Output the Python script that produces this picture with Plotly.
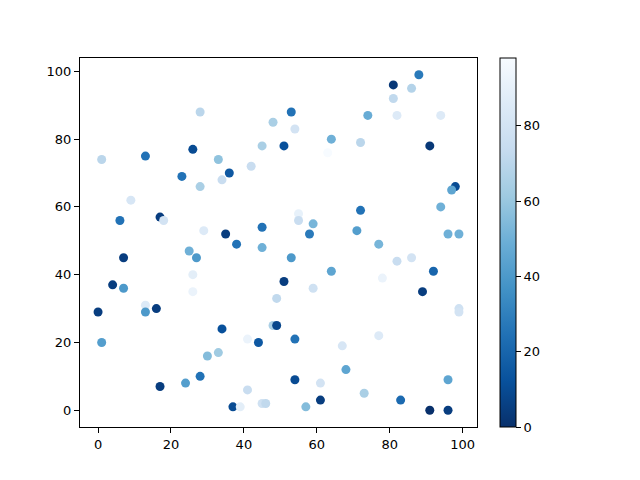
import plotly.graph_objects as go

# -----------------------------
# Data
# -----------------------------
x_vals = [28, 26, 1, 13, 33, 23, 28, 34, 9, 17,
          18, 6, 29, 53, 48, 54, 45, 51, 64, 63,
          42, 36, 55, 55, 59, 45, 35, 58, 38, 45,
          88, 81, 86, 81, 74, 82, 94, 72, 91, 98,
          97, 94, 72, 71, 96, 99, 77, 7, 25, 27,
          26, 26, 4, 7, 13, 13, 16, 0, 1, 33,
          30, 28, 24, 17, 53, 64, 51, 59, 49, 48,
          49, 34, 41, 44, 54, 67, 68, 54, 61, 41,
          61, 45, 46, 37, 39, 57, 82, 86, 92, 78,
          89, 99, 99, 77, 96, 73, 83, 91, 96]
y_vals = [88, 77, 74, 75, 74, 69, 66, 68, 62, 57,
          56, 56, 53, 88, 85, 83, 78, 78, 80, 76,
          72, 70, 58, 56, 55, 54, 52, 52, 49, 48,
          99, 96, 95, 92, 87, 87, 87, 79, 78, 66,
          65, 60, 59, 53, 52, 52, 49, 45, 47, 45,
          40, 35, 37, 36, 31, 29, 30, 29, 20, 17,
          16, 10, 8, 7, 45, 41, 38, 36, 33, 25,
          25, 24, 21, 20, 21, 19, 12, 9, 8, 6,
          3, 2, 2, 1, 1, 1, 44, 45, 41, 39,
          35, 30, 29, 22, 9, 5, 3, 0, 0]
c_vals = [70, 10, 70, 25, 58, 25, 65, 75, 82, 5,
          80, 25, 85, 25, 65, 80, 65, 12, 50, 98,
          75, 15, 90, 75, 52, 25, 5, 28, 25, 50,
          28, 3, 68, 72, 48, 85, 85, 70, 3, 10,
          45, 50, 25, 42, 50, 50, 52, 5, 50, 40,
          88, 92, 5, 40, 85, 40, 5, 5, 42, 62,
          55, 25, 42, 5, 40, 45, 5, 78, 72, 65,
          8, 12, 92, 15, 25, 82, 45, 10, 80, 75,
          5, 78, 72, 10, 88, 55, 75, 80, 20, 92,
          5, 78, 80, 85, 45, 65, 22, 0, 5]

tick_vals = [0, 20, 40, 60, 80, 100]
cbar_ticks = [0, 20, 40, 60, 80]

# matplotlib "Blues_r"
blues_r = [
    [0.000, "rgb(8,48,107)"],
    [0.125, "rgb(8,81,156)"],
    [0.250, "rgb(33,113,181)"],
    [0.375, "rgb(66,146,198)"],
    [0.500, "rgb(107,174,214)"],
    [0.625, "rgb(158,202,225)"],
    [0.750, "rgb(198,219,239)"],
    [0.875, "rgb(222,235,247)"],
    [1.000, "rgb(247,251,255)"],
]

fig = go.Figure()

fig.add_trace(go.Scatter(
    x=x_vals, y=y_vals, mode="markers",
    marker=dict(
        size=9, color=c_vals, colorscale=blues_r,
        cmin=min(c_vals), cmax=max(c_vals),
        line=dict(width=0),
        colorbar=dict(
            x=1.033, xanchor="left", y=0.5, yanchor="middle",
            len=1, lenmode="fraction", ypad=0,
            thickness=16, thicknessmode="pixels",
            outlinewidth=1, outlinecolor="black",
            tickvals=cbar_ticks, ticks="outside", ticklen=5,
            tickcolor="black", tickfont=dict(size=13, color="black"),
        ),
    ),
    showlegend=False,
))

axis_style = dict(
    showline=True, mirror=True, linecolor="black", linewidth=1,
    ticks="outside", ticklen=5, tickcolor="black",
    showgrid=False, zeroline=False,
    tickvals=tick_vals, tickfont=dict(size=13, color="black"),
)

# page body adds an 8px offset, so the margins are shifted to compensate
fig.update_layout(
    width=640, height=480,
    margin=dict(l=72, r=171, t=50, b=61),
    plot_bgcolor="white", paper_bgcolor="white",
    font=dict(family="DejaVu Sans", size=13, color="black"),
    xaxis=dict(range=[-4.95, 103.95], **axis_style),
    yaxis=dict(range=[-4.95, 103.95], **axis_style),
)

fig.write_html("out.html")
